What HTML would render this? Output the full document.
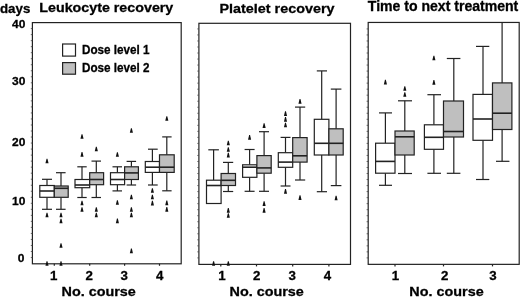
<!DOCTYPE html>
<html><head><meta charset="utf-8"><style>
html,body{margin:0;padding:0;background:#fff;}
body{width:520px;height:297px;overflow:hidden;font-family:"Liberation Sans", sans-serif;}
svg{display:block;will-change:transform;}
</style></head><body>
<svg width="520" height="297" viewBox="0 0 520 297">
<rect width="520" height="297" fill="#fff"/>
<g fill="none" stroke="#222" stroke-width="1.2">
<rect x="32.4" y="22.6" width="148.8" height="241.2"/>
<line x1="54.3" y1="263.8" x2="54.3" y2="265.8"/>
<line x1="89.7" y1="263.8" x2="89.7" y2="265.8"/>
<line x1="124.6" y1="263.8" x2="124.6" y2="265.8"/>
<line x1="159.5" y1="263.8" x2="159.5" y2="265.8"/>
<rect x="198.9" y="23.3" width="151.6" height="241.1"/>
<line x1="220.8" y1="264.4" x2="220.8" y2="266.4"/>
<line x1="256.5" y1="264.4" x2="256.5" y2="266.4"/>
<line x1="292.7" y1="264.4" x2="292.7" y2="266.4"/>
<line x1="328.9" y1="264.4" x2="328.9" y2="266.4"/>
<rect x="368.2" y="22.45" width="151.0" height="241.9"/>
<line x1="395.0" y1="264.4" x2="395.0" y2="266.4"/>
<line x1="443.5" y1="264.4" x2="443.5" y2="266.4"/>
<line x1="492.5" y1="264.4" x2="492.5" y2="266.4"/>
</g>
<g stroke="#444" stroke-width="0.8">
<line x1="30.8" y1="28.59" x2="32.4" y2="28.59"/>
<line x1="30.8" y1="34.61" x2="32.4" y2="34.61"/>
<line x1="30.8" y1="40.63" x2="32.4" y2="40.63"/>
<line x1="30.8" y1="46.66" x2="32.4" y2="46.66"/>
<line x1="30.8" y1="52.68" x2="32.4" y2="52.68"/>
<line x1="30.8" y1="58.71" x2="32.4" y2="58.71"/>
<line x1="30.8" y1="64.73" x2="32.4" y2="64.73"/>
<line x1="30.8" y1="70.76" x2="32.4" y2="70.76"/>
<line x1="30.8" y1="76.79" x2="32.4" y2="76.79"/>
<line x1="30.8" y1="82.81" x2="32.4" y2="82.81"/>
<line x1="30.8" y1="88.84" x2="32.4" y2="88.84"/>
<line x1="30.8" y1="94.86" x2="32.4" y2="94.86"/>
<line x1="30.8" y1="100.89" x2="32.4" y2="100.89"/>
<line x1="30.8" y1="106.91" x2="32.4" y2="106.91"/>
<line x1="30.8" y1="112.94" x2="32.4" y2="112.94"/>
<line x1="30.8" y1="118.96" x2="32.4" y2="118.96"/>
<line x1="30.8" y1="124.99" x2="32.4" y2="124.99"/>
<line x1="30.8" y1="131.01" x2="32.4" y2="131.01"/>
<line x1="30.8" y1="137.04" x2="32.4" y2="137.04"/>
<line x1="30.8" y1="143.06" x2="32.4" y2="143.06"/>
<line x1="30.8" y1="149.09" x2="32.4" y2="149.09"/>
<line x1="30.8" y1="155.11" x2="32.4" y2="155.11"/>
<line x1="30.8" y1="161.14" x2="32.4" y2="161.14"/>
<line x1="30.8" y1="167.16" x2="32.4" y2="167.16"/>
<line x1="30.8" y1="173.19" x2="32.4" y2="173.19"/>
<line x1="30.8" y1="179.21" x2="32.4" y2="179.21"/>
<line x1="30.8" y1="185.24" x2="32.4" y2="185.24"/>
<line x1="30.8" y1="191.26" x2="32.4" y2="191.26"/>
<line x1="30.8" y1="197.29" x2="32.4" y2="197.29"/>
<line x1="30.8" y1="203.31" x2="32.4" y2="203.31"/>
<line x1="30.8" y1="209.34" x2="32.4" y2="209.34"/>
<line x1="30.8" y1="215.36" x2="32.4" y2="215.36"/>
<line x1="30.8" y1="221.39" x2="32.4" y2="221.39"/>
<line x1="30.8" y1="227.41" x2="32.4" y2="227.41"/>
<line x1="30.8" y1="233.44" x2="32.4" y2="233.44"/>
<line x1="30.8" y1="239.46" x2="32.4" y2="239.46"/>
<line x1="30.8" y1="245.49" x2="32.4" y2="245.49"/>
<line x1="30.8" y1="251.51" x2="32.4" y2="251.51"/>
<line x1="30.8" y1="257.54" x2="32.4" y2="257.54"/>
<line x1="197.3" y1="28.92" x2="198.9" y2="28.92"/>
<line x1="197.3" y1="34.95" x2="198.9" y2="34.95"/>
<line x1="197.3" y1="40.97" x2="198.9" y2="40.97"/>
<line x1="197.3" y1="47.00" x2="198.9" y2="47.00"/>
<line x1="197.3" y1="53.02" x2="198.9" y2="53.02"/>
<line x1="197.3" y1="59.05" x2="198.9" y2="59.05"/>
<line x1="197.3" y1="65.07" x2="198.9" y2="65.07"/>
<line x1="197.3" y1="71.10" x2="198.9" y2="71.10"/>
<line x1="197.3" y1="77.12" x2="198.9" y2="77.12"/>
<line x1="197.3" y1="83.15" x2="198.9" y2="83.15"/>
<line x1="197.3" y1="89.18" x2="198.9" y2="89.18"/>
<line x1="197.3" y1="95.20" x2="198.9" y2="95.20"/>
<line x1="197.3" y1="101.23" x2="198.9" y2="101.23"/>
<line x1="197.3" y1="107.25" x2="198.9" y2="107.25"/>
<line x1="197.3" y1="113.28" x2="198.9" y2="113.28"/>
<line x1="197.3" y1="119.30" x2="198.9" y2="119.30"/>
<line x1="197.3" y1="125.33" x2="198.9" y2="125.33"/>
<line x1="197.3" y1="131.35" x2="198.9" y2="131.35"/>
<line x1="197.3" y1="137.38" x2="198.9" y2="137.38"/>
<line x1="197.3" y1="143.40" x2="198.9" y2="143.40"/>
<line x1="197.3" y1="149.43" x2="198.9" y2="149.43"/>
<line x1="197.3" y1="155.45" x2="198.9" y2="155.45"/>
<line x1="197.3" y1="161.48" x2="198.9" y2="161.48"/>
<line x1="197.3" y1="167.50" x2="198.9" y2="167.50"/>
<line x1="197.3" y1="173.53" x2="198.9" y2="173.53"/>
<line x1="197.3" y1="179.55" x2="198.9" y2="179.55"/>
<line x1="197.3" y1="185.58" x2="198.9" y2="185.58"/>
<line x1="197.3" y1="191.60" x2="198.9" y2="191.60"/>
<line x1="197.3" y1="197.63" x2="198.9" y2="197.63"/>
<line x1="197.3" y1="203.65" x2="198.9" y2="203.65"/>
<line x1="197.3" y1="209.68" x2="198.9" y2="209.68"/>
<line x1="197.3" y1="215.70" x2="198.9" y2="215.70"/>
<line x1="197.3" y1="221.73" x2="198.9" y2="221.73"/>
<line x1="197.3" y1="227.75" x2="198.9" y2="227.75"/>
<line x1="197.3" y1="233.78" x2="198.9" y2="233.78"/>
<line x1="197.3" y1="239.80" x2="198.9" y2="239.80"/>
<line x1="197.3" y1="245.83" x2="198.9" y2="245.83"/>
<line x1="197.3" y1="251.85" x2="198.9" y2="251.85"/>
<line x1="197.3" y1="257.88" x2="198.9" y2="257.88"/>
<line x1="366.6" y1="28.92" x2="368.2" y2="28.92"/>
<line x1="366.6" y1="34.95" x2="368.2" y2="34.95"/>
<line x1="366.6" y1="40.97" x2="368.2" y2="40.97"/>
<line x1="366.6" y1="47.00" x2="368.2" y2="47.00"/>
<line x1="366.6" y1="53.02" x2="368.2" y2="53.02"/>
<line x1="366.6" y1="59.05" x2="368.2" y2="59.05"/>
<line x1="366.6" y1="65.07" x2="368.2" y2="65.07"/>
<line x1="366.6" y1="71.10" x2="368.2" y2="71.10"/>
<line x1="366.6" y1="77.12" x2="368.2" y2="77.12"/>
<line x1="366.6" y1="83.15" x2="368.2" y2="83.15"/>
<line x1="366.6" y1="89.18" x2="368.2" y2="89.18"/>
<line x1="366.6" y1="95.20" x2="368.2" y2="95.20"/>
<line x1="366.6" y1="101.23" x2="368.2" y2="101.23"/>
<line x1="366.6" y1="107.25" x2="368.2" y2="107.25"/>
<line x1="366.6" y1="113.28" x2="368.2" y2="113.28"/>
<line x1="366.6" y1="119.30" x2="368.2" y2="119.30"/>
<line x1="366.6" y1="125.33" x2="368.2" y2="125.33"/>
<line x1="366.6" y1="131.35" x2="368.2" y2="131.35"/>
<line x1="366.6" y1="137.38" x2="368.2" y2="137.38"/>
<line x1="366.6" y1="143.40" x2="368.2" y2="143.40"/>
<line x1="366.6" y1="149.43" x2="368.2" y2="149.43"/>
<line x1="366.6" y1="155.45" x2="368.2" y2="155.45"/>
<line x1="366.6" y1="161.48" x2="368.2" y2="161.48"/>
<line x1="366.6" y1="167.50" x2="368.2" y2="167.50"/>
<line x1="366.6" y1="173.53" x2="368.2" y2="173.53"/>
<line x1="366.6" y1="179.55" x2="368.2" y2="179.55"/>
<line x1="366.6" y1="185.58" x2="368.2" y2="185.58"/>
<line x1="366.6" y1="191.60" x2="368.2" y2="191.60"/>
<line x1="366.6" y1="197.63" x2="368.2" y2="197.63"/>
<line x1="366.6" y1="203.65" x2="368.2" y2="203.65"/>
<line x1="366.6" y1="209.68" x2="368.2" y2="209.68"/>
<line x1="366.6" y1="215.70" x2="368.2" y2="215.70"/>
<line x1="366.6" y1="221.73" x2="368.2" y2="221.73"/>
<line x1="366.6" y1="227.75" x2="368.2" y2="227.75"/>
<line x1="366.6" y1="233.78" x2="368.2" y2="233.78"/>
<line x1="366.6" y1="239.80" x2="368.2" y2="239.80"/>
<line x1="366.6" y1="245.83" x2="368.2" y2="245.83"/>
<line x1="366.6" y1="251.85" x2="368.2" y2="251.85"/>
<line x1="366.6" y1="257.88" x2="368.2" y2="257.88"/>
</g>
<g stroke="#222" stroke-width="1.2">
<line x1="47" y1="179.3" x2="47" y2="185.5"/>
<line x1="42" y1="179.3" x2="52" y2="179.3"/>
<line x1="47" y1="197.3" x2="47" y2="209.3"/>
<line x1="42" y1="209.3" x2="52" y2="209.3"/>
<rect x="39.8" y="185.5" width="14.5" height="11.8" fill="#fff"/>
<line x1="39.8" y1="191" x2="54.3" y2="191" stroke-width="1.6"/>
<line x1="61" y1="172.7" x2="61" y2="186"/>
<line x1="56" y1="172.7" x2="65.6" y2="172.7"/>
<line x1="61" y1="197.3" x2="61" y2="209.3"/>
<line x1="56" y1="209.3" x2="65.6" y2="209.3"/>
<rect x="54.3" y="186" width="13.9" height="11.3" fill="#bfbfbf"/>
<line x1="54.3" y1="188.3" x2="68.2" y2="188.3" stroke-width="1.6"/>
<line x1="82" y1="166.8" x2="82" y2="179.5"/>
<line x1="77.3" y1="166.8" x2="86.7" y2="166.8"/>
<line x1="82" y1="187.7" x2="82" y2="197.5"/>
<line x1="77.3" y1="197.5" x2="86.7" y2="197.5"/>
<rect x="75" y="179.5" width="14.7" height="8.2" fill="#fff"/>
<line x1="75" y1="185" x2="89.7" y2="185" stroke-width="1.6"/>
<line x1="96.3" y1="161.1" x2="96.3" y2="172.7"/>
<line x1="91.5" y1="161.1" x2="101" y2="161.1"/>
<line x1="96.3" y1="184.7" x2="96.3" y2="197.5"/>
<line x1="91.5" y1="197.5" x2="101" y2="197.5"/>
<rect x="89.7" y="172.7" width="13.9" height="12.0" fill="#bfbfbf"/>
<line x1="89.7" y1="179.5" x2="103.6" y2="179.5" stroke-width="1.6"/>
<line x1="117.4" y1="166.8" x2="117.4" y2="172.7"/>
<line x1="112.5" y1="166.8" x2="122" y2="166.8"/>
<line x1="117.4" y1="184.7" x2="117.4" y2="190.9"/>
<line x1="112.5" y1="190.9" x2="122" y2="190.9"/>
<rect x="110.5" y="172.7" width="14.1" height="12.0" fill="#fff"/>
<line x1="110.5" y1="179.5" x2="124.6" y2="179.5" stroke-width="1.6"/>
<line x1="131.4" y1="161.4" x2="131.4" y2="166.8"/>
<line x1="126.6" y1="161.4" x2="136.1" y2="161.4"/>
<line x1="131.4" y1="179.5" x2="131.4" y2="185"/>
<line x1="126.6" y1="185" x2="136.1" y2="185"/>
<rect x="124.6" y="166.8" width="13.8" height="12.7" fill="#bfbfbf"/>
<line x1="124.6" y1="172.9" x2="138.4" y2="172.9" stroke-width="1.6"/>
<line x1="152.4" y1="149.2" x2="152.4" y2="161.5"/>
<line x1="148" y1="149.2" x2="157.7" y2="149.2"/>
<line x1="152.4" y1="172.4" x2="152.4" y2="185"/>
<line x1="148" y1="185" x2="157.7" y2="185"/>
<rect x="145.3" y="161.5" width="14.2" height="10.9" fill="#fff"/>
<line x1="145.3" y1="167.2" x2="159.5" y2="167.2" stroke-width="1.6"/>
<line x1="166.8" y1="136.9" x2="166.8" y2="154.8"/>
<line x1="162.2" y1="136.9" x2="171.6" y2="136.9"/>
<line x1="166.8" y1="172.4" x2="166.8" y2="190.8"/>
<line x1="162.2" y1="190.8" x2="171.6" y2="190.8"/>
<rect x="159.5" y="154.8" width="14.7" height="17.6" fill="#bfbfbf"/>
<line x1="159.5" y1="167.2" x2="174.2" y2="167.2" stroke-width="1.6"/>
<line x1="213.6" y1="149.8" x2="213.6" y2="180.2"/>
<line x1="208.3" y1="149.8" x2="218.9" y2="149.8"/>
<rect x="206.5" y="180.2" width="14.6" height="23.3" fill="#fff"/>
<line x1="206.5" y1="185.5" x2="221.1" y2="185.5" stroke-width="1.6"/>
<line x1="228.3" y1="162.4" x2="228.3" y2="173.5"/>
<line x1="223" y1="162.4" x2="233.2" y2="162.4"/>
<line x1="228.3" y1="185.5" x2="228.3" y2="191.5"/>
<line x1="223" y1="191.5" x2="233.2" y2="191.5"/>
<rect x="221.1" y="173.5" width="14.4" height="12.0" fill="#bfbfbf"/>
<line x1="221.1" y1="180.3" x2="235.5" y2="180.3" stroke-width="1.6"/>
<line x1="249.6" y1="149.5" x2="249.6" y2="164.8"/>
<line x1="244.6" y1="149.5" x2="254.6" y2="149.5"/>
<line x1="249.6" y1="177.3" x2="249.6" y2="191.3"/>
<line x1="244.6" y1="191.3" x2="254.6" y2="191.3"/>
<rect x="242.6" y="164.8" width="14.3" height="12.5" fill="#fff"/>
<line x1="242.6" y1="167.2" x2="256.9" y2="167.2" stroke-width="1.6"/>
<line x1="264.1" y1="131.7" x2="264.1" y2="155.6"/>
<line x1="259" y1="131.7" x2="269" y2="131.7"/>
<line x1="264.1" y1="173.2" x2="264.1" y2="191.3"/>
<line x1="259" y1="191.3" x2="269" y2="191.3"/>
<rect x="256.9" y="155.6" width="14.3" height="17.6" fill="#bfbfbf"/>
<line x1="256.9" y1="167.9" x2="271.2" y2="167.9" stroke-width="1.6"/>
<line x1="285.5" y1="137.4" x2="285.5" y2="152.7"/>
<line x1="280.6" y1="137.4" x2="290.5" y2="137.4"/>
<line x1="285.5" y1="167.3" x2="285.5" y2="186"/>
<line x1="280.6" y1="186" x2="290.5" y2="186"/>
<rect x="278.3" y="152.7" width="14.4" height="14.6" fill="#fff"/>
<line x1="278.3" y1="162.1" x2="292.7" y2="162.1" stroke-width="1.6"/>
<line x1="300" y1="107.1" x2="300" y2="137.6"/>
<line x1="295" y1="107.1" x2="305.2" y2="107.1"/>
<line x1="300" y1="162.1" x2="300" y2="180"/>
<line x1="295" y1="180" x2="305.2" y2="180"/>
<rect x="292.7" y="137.6" width="14.4" height="24.5" fill="#bfbfbf"/>
<line x1="292.7" y1="155.8" x2="307.1" y2="155.8" stroke-width="1.6"/>
<line x1="321.7" y1="70.9" x2="321.7" y2="119.3"/>
<line x1="316.8" y1="70.9" x2="327" y2="70.9"/>
<line x1="321.7" y1="155" x2="321.7" y2="191.7"/>
<line x1="316.8" y1="191.7" x2="327" y2="191.7"/>
<rect x="314.3" y="119.3" width="14.6" height="35.7" fill="#fff"/>
<line x1="314.3" y1="143.3" x2="328.9" y2="143.3" stroke-width="1.6"/>
<line x1="336.1" y1="89.1" x2="336.1" y2="128.8"/>
<line x1="330.8" y1="89.1" x2="341.4" y2="89.1"/>
<line x1="336.1" y1="155" x2="336.1" y2="185.6"/>
<line x1="330.8" y1="185.6" x2="341.4" y2="185.6"/>
<rect x="328.9" y="128.8" width="14.3" height="26.2" fill="#bfbfbf"/>
<line x1="328.9" y1="143.3" x2="343.2" y2="143.3" stroke-width="1.6"/>
<line x1="385.4" y1="112.9" x2="385.4" y2="143.2"/>
<line x1="379" y1="112.9" x2="392" y2="112.9"/>
<line x1="385.4" y1="173.2" x2="385.4" y2="185.3"/>
<line x1="379" y1="185.3" x2="392" y2="185.3"/>
<rect x="375.6" y="143.2" width="19.4" height="30.0" fill="#fff"/>
<line x1="375.6" y1="161.4" x2="395" y2="161.4" stroke-width="1.6"/>
<line x1="404.8" y1="100.8" x2="404.8" y2="131"/>
<line x1="398" y1="100.8" x2="412" y2="100.8"/>
<line x1="404.8" y1="155" x2="404.8" y2="173.5"/>
<line x1="398" y1="173.5" x2="412" y2="173.5"/>
<rect x="395" y="131" width="19.2" height="24.0" fill="#bfbfbf"/>
<line x1="395" y1="136.8" x2="414.2" y2="136.8" stroke-width="1.6"/>
<line x1="433.9" y1="94.7" x2="433.9" y2="124.8"/>
<line x1="427.4" y1="94.7" x2="441" y2="94.7"/>
<line x1="433.9" y1="149.3" x2="433.9" y2="173.3"/>
<line x1="427.4" y1="173.3" x2="441" y2="173.3"/>
<rect x="424.4" y="124.8" width="19.1" height="24.5" fill="#fff"/>
<line x1="424.4" y1="137.3" x2="443.5" y2="137.3" stroke-width="1.6"/>
<line x1="453.8" y1="58.5" x2="453.8" y2="101"/>
<line x1="446.8" y1="58.5" x2="460.4" y2="58.5"/>
<line x1="453.8" y1="137" x2="453.8" y2="173.3"/>
<line x1="446.8" y1="173.3" x2="460.4" y2="173.3"/>
<rect x="443.5" y="101" width="20.0" height="36.0" fill="#bfbfbf"/>
<line x1="443.5" y1="131.5" x2="463.5" y2="131.5" stroke-width="1.6"/>
<line x1="483" y1="46.4" x2="483" y2="94.4"/>
<line x1="476" y1="46.4" x2="489.3" y2="46.4"/>
<line x1="483" y1="140.3" x2="483" y2="179.5"/>
<line x1="476" y1="179.5" x2="489.3" y2="179.5"/>
<rect x="473" y="94.4" width="19.5" height="45.9" fill="#fff"/>
<line x1="473" y1="119" x2="492.5" y2="119" stroke-width="1.6"/>
<line x1="502.1" y1="22.2" x2="502.1" y2="82.9"/>
<line x1="502.1" y1="129.5" x2="502.1" y2="161.3"/>
<line x1="496" y1="161.3" x2="509.4" y2="161.3"/>
<rect x="492.5" y="82.9" width="19.4" height="46.6" fill="#bfbfbf"/>
<line x1="492.5" y1="113.2" x2="511.9" y2="113.2" stroke-width="1.6"/>
</g>
<g fill="#111">
<polygon points="45.45,163.35 48.55,163.35 47.45,158.65 46.55,158.65"/>
<polygon points="45.45,217.35 48.55,217.35 47.45,212.65 46.55,212.65"/>
<polygon points="45.45,265.85 48.55,265.85 47.45,261.15 46.55,261.15"/>
<polygon points="59.45,217.35 62.55,217.35 61.45,212.65 60.55,212.65"/>
<polygon points="59.45,223.35 62.55,223.35 61.45,218.65 60.55,218.65"/>
<polygon points="59.45,247.85 62.55,247.85 61.45,243.15 60.55,243.15"/>
<polygon points="59.45,265.85 62.55,265.85 61.45,261.15 60.55,261.15"/>
<polygon points="80.45,138.85 83.55,138.85 82.45,134.15 81.55,134.15"/>
<polygon points="80.45,156.65 83.55,156.65 82.45,151.95 81.55,151.95"/>
<polygon points="80.45,205.35 83.55,205.35 82.45,200.65 81.55,200.65"/>
<polygon points="80.45,211.85 83.55,211.85 82.45,207.15 81.55,207.15"/>
<polygon points="94.75,151.35 97.85,151.35 96.75,146.65 95.85,146.65"/>
<polygon points="94.75,211.85 97.85,211.85 96.75,207.15 95.85,207.15"/>
<polygon points="94.75,217.35 97.85,217.35 96.75,212.65 95.85,212.65"/>
<polygon points="115.85,156.85 118.95,156.85 117.85,152.15 116.95,152.15"/>
<polygon points="115.85,204.85 118.95,204.85 117.85,200.15 116.95,200.15"/>
<polygon points="115.85,223.15 118.95,223.15 117.85,218.45 116.95,218.45"/>
<polygon points="129.85,132.85 132.95,132.85 131.85,128.15 130.95,128.15"/>
<polygon points="129.85,199.35 132.95,199.35 131.85,194.65 130.95,194.65"/>
<polygon points="129.85,211.85 132.95,211.85 131.85,207.15 130.95,207.15"/>
<polygon points="129.85,217.35 132.95,217.35 131.85,212.65 130.95,212.65"/>
<polygon points="129.85,253.15 132.95,253.15 131.85,248.45 130.95,248.45"/>
<polygon points="150.85,192.85 153.95,192.85 152.85,188.15 151.95,188.15"/>
<polygon points="150.85,199.35 153.95,199.35 152.85,194.65 151.95,194.65"/>
<polygon points="150.85,205.55 153.95,205.55 152.85,200.85 151.95,200.85"/>
<polygon points="165.25,120.85 168.35,120.85 167.25,116.15 166.35,116.15"/>
<polygon points="165.25,205.15 168.35,205.15 167.25,200.45 166.35,200.45"/>
<polygon points="165.25,211.65 168.35,211.65 167.25,206.95 166.35,206.95"/>
<polygon points="212.05,265.85 215.15,265.85 214.05,261.15 213.15,261.15"/>
<polygon points="226.75,145.35 229.85,145.35 228.75,140.65 227.85,140.65"/>
<polygon points="226.75,151.85 229.85,151.85 228.75,147.15 227.85,147.15"/>
<polygon points="226.75,157.55 229.85,157.55 228.75,152.85 227.85,152.85"/>
<polygon points="226.75,212.65 229.85,212.65 228.75,207.95 227.85,207.95"/>
<polygon points="226.75,217.85 229.85,217.85 228.75,213.15 227.85,213.15"/>
<polygon points="226.75,265.85 229.85,265.85 228.75,261.15 227.85,261.15"/>
<polygon points="248.05,139.65 251.15,139.65 250.05,134.95 249.15,134.95"/>
<polygon points="262.55,128.05 265.65,128.05 264.55,123.35 263.65,123.35"/>
<polygon points="262.55,206.05 265.65,206.05 264.55,201.35 263.65,201.35"/>
<polygon points="262.55,212.75 265.65,212.75 264.55,208.05 263.65,208.05"/>
<polygon points="283.95,115.95 287.05,115.95 285.95,111.25 285.05,111.25"/>
<polygon points="283.95,121.65 287.05,121.65 285.95,116.95 285.05,116.95"/>
<polygon points="283.95,127.35 287.05,127.35 285.95,122.65 285.05,122.65"/>
<polygon points="283.95,193.75 287.05,193.75 285.95,189.05 285.05,189.05"/>
<polygon points="298.45,103.75 301.55,103.75 300.45,99.05 299.55,99.05"/>
<polygon points="298.45,199.95 301.55,199.95 300.45,195.25 299.55,195.25"/>
<polygon points="334.55,200.35 337.65,200.35 336.55,195.65 335.65,195.65"/>
<polygon points="383.85,84.55 386.95,84.55 385.85,79.85 384.95,79.85"/>
<polygon points="403.25,90.85 406.35,90.85 405.25,86.15 404.35,86.15"/>
<polygon points="403.25,96.85 406.35,96.85 405.25,92.15 404.35,92.15"/>
<polygon points="432.35,60.35 435.45,60.35 434.35,55.65 433.45,55.65"/>
<polygon points="432.35,84.65 435.45,84.65 434.35,79.95 433.45,79.95"/>
</g>
<g stroke="#222" stroke-width="1.2"><rect x="62.6" y="44" width="12.9" height="12.1" fill="#fff"/><rect x="62.6" y="62.6" width="12.9" height="11.6" fill="#bfbfbf"/></g>
<g font-family="Liberation Sans, sans-serif" font-weight="bold" fill="#000" stroke="#000" stroke-width="0.3">
<text transform="translate(0,12.6) scale(1,0.98)" font-size="13.2" textLength="30.3" lengthAdjust="spacingAndGlyphs">days</text>
<text transform="translate(39.3,11.7) scale(1,0.97)" font-size="14" textLength="134" lengthAdjust="spacingAndGlyphs">Leukocyte recovery</text>
<text transform="translate(219.5,12.6) scale(1,0.97)" font-size="14" textLength="115" lengthAdjust="spacingAndGlyphs">Platelet recovery</text>
<text transform="translate(367.8,10.6) scale(1,0.99)" font-size="14" textLength="150.5" lengthAdjust="spacingAndGlyphs">Time to next treatment</text>
<text transform="translate(82,54.2) scale(1,0.99)" font-size="12" textLength="67.5" lengthAdjust="spacingAndGlyphs">Dose level 1</text>
<text transform="translate(82,72.2) scale(1,0.99)" font-size="12" textLength="67.5" lengthAdjust="spacingAndGlyphs">Dose level 2</text>
<text transform="translate(25.4,28.3) scale(1,0.97)" font-size="12" text-anchor="end">40</text>
<text transform="translate(25.4,84.8) scale(1,0.97)" font-size="12" text-anchor="end">30</text>
<text transform="translate(25.4,146.0) scale(1,0.97)" font-size="12" text-anchor="end">20</text>
<text transform="translate(25.4,205.1) scale(1,0.97)" font-size="12" text-anchor="end">10</text>
<text transform="translate(24.4,262.0) scale(1,0.97)" font-size="12" text-anchor="end">0</text>
<text transform="translate(53.6,280.3) scale(1,0.9)" font-size="13.3" text-anchor="middle">1</text>
<text transform="translate(89.2,280.3) scale(1,0.9)" font-size="13.3" text-anchor="middle">2</text>
<text transform="translate(124.2,280.3) scale(1,0.9)" font-size="13.3" text-anchor="middle">3</text>
<text transform="translate(159.6,280.3) scale(1,0.9)" font-size="13.3" text-anchor="middle">4</text>
<text transform="translate(222.0,280.3) scale(1,0.9)" font-size="13.3" text-anchor="middle">1</text>
<text transform="translate(256.6,280.3) scale(1,0.9)" font-size="13.3" text-anchor="middle">2</text>
<text transform="translate(292.2,280.3) scale(1,0.9)" font-size="13.3" text-anchor="middle">3</text>
<text transform="translate(327.5,280.3) scale(1,0.9)" font-size="13.3" text-anchor="middle">4</text>
<text transform="translate(395.4,280.3) scale(1,0.9)" font-size="13.3" text-anchor="middle">1</text>
<text transform="translate(444.6,280.3) scale(1,0.9)" font-size="13.3" text-anchor="middle">2</text>
<text transform="translate(492.9,280.3) scale(1,0.9)" font-size="13.3" text-anchor="middle">3</text>
<text transform="translate(98.7,295.8) scale(1,0.93)" font-size="14.2" text-anchor="middle" textLength="74.3" lengthAdjust="spacingAndGlyphs">No. course</text>
<text transform="translate(266.7,295.8) scale(1,0.93)" font-size="14.2" text-anchor="middle" textLength="74.3" lengthAdjust="spacingAndGlyphs">No. course</text>
<text transform="translate(446.5,295.8) scale(1,0.93)" font-size="14.2" text-anchor="middle" textLength="74.3" lengthAdjust="spacingAndGlyphs">No. course</text>
</g>
</svg>
</body></html>
